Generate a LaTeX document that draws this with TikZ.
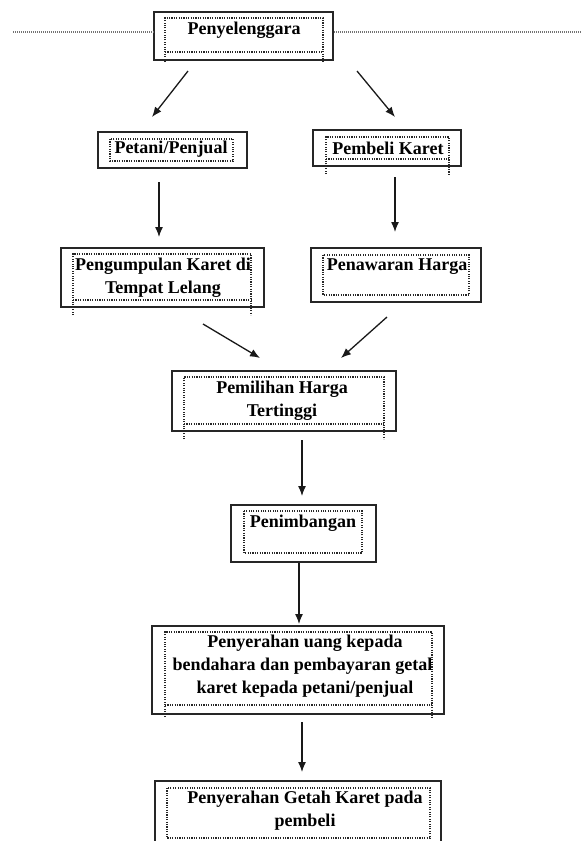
\documentclass[tikz,border=0pt]{standalone}
\usepackage{fontspec}
\setmainfont{Liberation Serif}
\usetikzlibrary{arrows.meta}
\tikzset{
  outerbox/.style={draw=black!85, line width=1.6pt, inner sep=0pt, fill=none},
  innerbox/.style={draw=black!85, dash pattern=on 1.1pt off 1.3pt, line width=1.1pt},
  label/.style={inner sep=0pt, align=center, font=\fontsize{18}{23}\selectfont\bfseries},
  arr/.style={draw=black!90, line width=1.3pt, -{Latex[length=10pt,width=8pt]}},
  sideline/.style={draw=black!55, dash pattern=on 1pt off 1pt, line width=1.4pt}
}
\begin{document}
\begin{tikzpicture}[x=1pt,y=-1pt]
\useasboundingbox (0,0) rectangle (581,841);
\clip (0,0) rectangle (581,841);
% outer boxes
\node[outerbox, minimum width=179pt, minimum height=48pt] (pen) at (243.5,36) {};
\node[outerbox, minimum width=149pt, minimum height=36pt] (pet) at (172.5,150) {};
\node[outerbox, minimum width=148pt, minimum height=36pt] (pem) at (387,148) {};
\node[outerbox, minimum width=203pt, minimum height=59pt] (peng) at (162.5,277.5) {};
\node[outerbox, minimum width=170pt, minimum height=54pt] (penaw) at (396,275) {};
\node[outerbox, minimum width=224pt, minimum height=60pt] (pemil) at (284,401) {};
\node[outerbox, minimum width=145pt, minimum height=57pt] (penim) at (303.5,533.5) {};
\node[outerbox, minimum width=292pt, minimum height=88pt] (uang) at (298,670) {};
\node[outerbox, minimum width=286pt, minimum height=90pt] (getah) at (298,826) {};
% side line
\coordinate (sl) at (13,32);
\coordinate (sr) at (581,32);
\draw[sideline] (sl) -- (pen.west |- sl);
\draw[sideline] (pen.east |- sr) -- (sr);
% inner dotted boxes
\draw[innerbox] (165,62) -- (165,18) -- (323,18) -- (323,62);
\draw[innerbox] (165,52) -- (323,52);
\draw[innerbox] (110,139) rectangle (233,161);
\draw[innerbox] (326,174) -- (326,137) -- (449,137) -- (449,174);
\draw[innerbox] (326,159) -- (449,159);
\draw[innerbox] (73,315) -- (73,254) -- (251,254) -- (251,315);
\draw[innerbox] (73,300) -- (251,300);
\draw[innerbox] (323,255) rectangle (469,295);
\draw[innerbox] (184,439) -- (184,377) -- (384,377) -- (384,439);
\draw[innerbox] (184,424) -- (384,424);
\draw[innerbox] (244,511) rectangle (362,553);
\draw[innerbox] (165,717) -- (165,632) -- (432,632) -- (432,717);
\draw[innerbox] (165,705) -- (432,705);
\draw[innerbox] (167,788) rectangle (430,838);
% texts
\begin{scope}\clip (165,18) rectangle (323,52);
\node[label] (t1) at (244,30) {Penyelenggara};\end{scope}
\begin{scope}\clip (110,139) rectangle (233,161);
\node[label] (t2) at (171,149) {Petani/Penjual};\end{scope}
\begin{scope}\clip (326,137) rectangle (449,159);
\node[label] (t3) at (388,148) {Pembeli Karet};\end{scope}
\begin{scope}\clip (73,254) rectangle (251,300);
\node[label] (t4) at (163,277.5) {Pengumpulan Karet di\\Tempat Lelang};\end{scope}
\begin{scope}\clip (323,255) rectangle (469,295);
\node[label] (t5) at (397,267) {Penawaran Harga};\end{scope}
\begin{scope}\clip (184,377) rectangle (384,424);
\node[label] (t6) at (282,401) {Pemilihan Harga\\Tertinggi};\end{scope}
\begin{scope}\clip (244,511) rectangle (362,553);
\node[label] (t7) at (303,523) {Penimbangan};\end{scope}
\begin{scope}\clip (165,632) rectangle (432,705);
\node[label] (t8) at (305,666.5) {Penyerahan uang kepada\\bendahara dan pembayaran getah\\karet kepada petani/penjual};\end{scope}
\begin{scope}\clip (167,788) rectangle (430,838);
\node[label] (t9) at (305,811) {Penyerahan Getah Karet pada\\pembeli};\end{scope}
% arrow coordinates
\coordinate (a1s) at (188,71);  \coordinate (a1e) at (152,117);
\coordinate (a2s) at (357,71);  \coordinate (a2e) at (395,117);
\coordinate (a3s) at (159,182); \coordinate (a3e) at (159,237);
\coordinate (a4s) at (395,177); \coordinate (a4e) at (395,232);
\coordinate (a5s) at (203,324); \coordinate (a5e) at (260,358);
\coordinate (a6s) at (387,317); \coordinate (a6e) at (341,358);
\coordinate (a7s) at (302,440); \coordinate (a7e) at (302,496);
\coordinate (a8e) at (299,624);
\coordinate (a9s) at (302,722); \coordinate (a9e) at (302,772);
\draw[arr] (a1s) -- (a1e);
\draw[arr] (a2s) -- (a2e);
\draw[arr] (a3s) -- (a3e);
\draw[arr] (a4s) -- (a4e);
\draw[arr] (a5s) -- (a5e);
\draw[arr] (a6s) -- (a6e);
\draw[arr] (a7s) -- (a7e);
\draw[arr] (penim.south -| a8e) -- (a8e);
\draw[arr] (a9s) -- (a9e);
\end{tikzpicture}
\end{document}
